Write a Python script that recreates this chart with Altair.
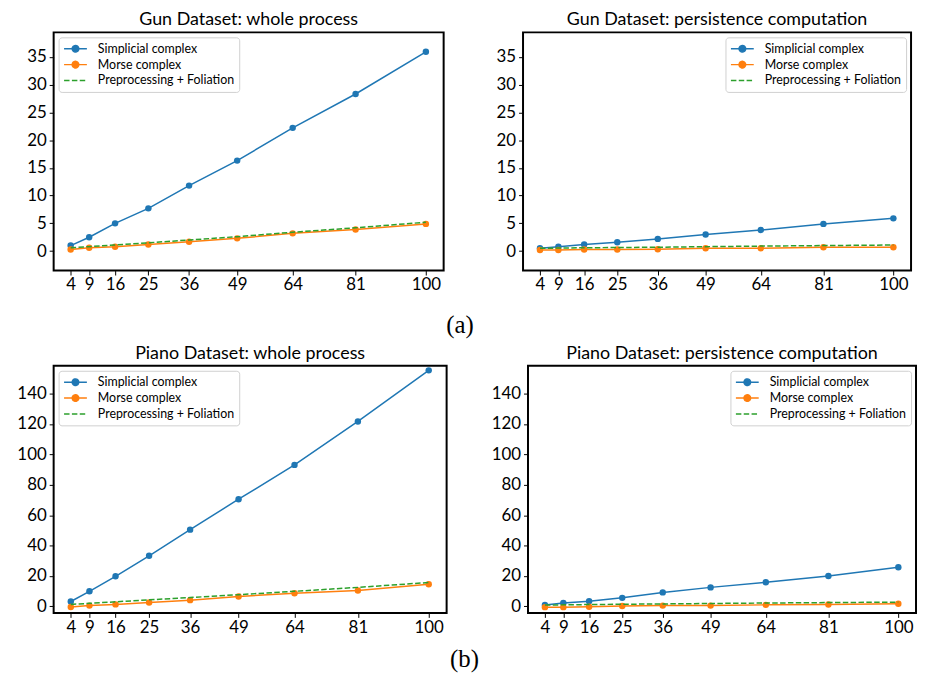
import altair as alt
import pandas as pd

x_sizes = [4, 9, 16, 25, 36, 49, 64, 81, 100]
series_names = ["Simplicial complex", "Morse complex", "Preprocessing + Foliation"]
series_colors = ["#1f77b4", "#ff7f0e", "#2ca02c"]

gun_whole_simplicial = [1.0, 2.5, 5.0, 7.7, 11.8, 16.3, 22.2, 28.3, 35.9]
gun_whole_morse = [0.3, 0.6, 0.8, 1.2, 1.7, 2.3, 3.2, 3.9, 4.9]
gun_whole_prep = [0.6, 0.8, 1.1, 1.5, 2.0, 2.6, 3.4, 4.2, 5.2]

gun_pers_simplicial = [0.5, 0.8, 1.2, 1.6, 2.2, 3.0, 3.8, 4.9, 5.9]
gun_pers_morse = [0.2, 0.2, 0.3, 0.3, 0.35, 0.5, 0.5, 0.7, 0.7]
gun_pers_prep = [0.5, 0.55, 0.6, 0.65, 0.7, 0.8, 0.9, 1.0, 1.1]

piano_whole_simplicial = [3.2, 9.9, 19.8, 33.3, 50.5, 70.5, 93.1, 121.7, 155.3]
piano_whole_morse = [-0.4, 0.5, 1.3, 2.6, 4.1, 6.5, 8.6, 10.5, 14.5]
piano_whole_prep = [1.3, 2.0, 3.0, 4.3, 5.8, 7.7, 9.9, 12.5, 15.7]

piano_pers_simplicial = [0.9, 2.2, 3.4, 5.6, 9.2, 12.5, 15.9, 20.0, 25.8]
piano_pers_morse = [-0.5, -0.5, -0.3, 0.3, 0.5, 0.5, 1.0, 1.2, 1.7]
piano_pers_prep = [0.9, 1.0, 1.2, 1.4, 1.6, 1.9, 2.2, 2.5, 2.8]

gun_ticks = [0, 5, 10, 15, 20, 25, 30, 35]
piano_ticks = [0, 20, 40, 60, 80, 100, 120, 140]

FONT = "Lato"
LINE_CIRCLE = "M-1,0L2.833,0M0.367,0A0.55,0.55 0 1,0 1.467,0A0.55,0.55 0 1,0 0.367,0Z"
LINE_ONLY = "M-1,0L2.833,0"
DASH = [5.5, 2.4]


def make_df(simp, morse, prep):
    rows = []
    for name, vals in zip(series_names, [simp, morse, prep]):
        for xv, yv in zip(x_sizes, vals):
            rows.append({"size": xv, "time": yv, "series": name})
    return pd.DataFrame(rows)


def panel(df, title, ydom, yvals, width, height, orient, yext):
    x = alt.X("size:Q", scale=alt.Scale(domain=[-0.6, 104.8], nice=False, zero=False),
              axis=alt.Axis(values=x_sizes, title=None, grid=False, domain=False,
                            tickSize=4.5, tickColor="black", labelPadding=2,
                            labelFont=FONT, labelFontSize=17, labelColor="black",
                            labelFlush=False, labelOverlap=False))
    y = alt.Y("time:Q", scale=alt.Scale(domain=ydom, nice=False, zero=False),
              axis=alt.Axis(values=yvals, title=None, grid=False, domain=False,
                            tickSize=4.5, tickColor="black", labelPadding=3,
                            labelFont=FONT, labelFontSize=17, labelColor="black",
                            minExtent=yext, maxExtent=yext, labelFlush=False,
                            labelOverlap=False))
    leg = alt.Legend(title=None, orient=orient, offset=5, padding=4.5,
                     strokeColor="#d0d0d0", cornerRadius=3, fillColor="white",
                     labelFont=FONT, labelFontSize=12.5, labelColor="black",
                     symbolSize=144, symbolStrokeWidth=1.5, symbolOpacity=1,
                     labelOffset=21, rowPadding=2)
    base = alt.Chart(df)
    dom = series_names
    # legend-only layer (no rows drawn); it carries the legend scales
    legend_layer = base.transform_filter("false").mark_point(
        size=144, strokeWidth=1.5, filled=False, opacity=1).encode(
        x=x, y=y,
        fill=alt.Fill("series:N", scale=alt.Scale(domain=dom, range=series_colors), legend=leg),
        stroke=alt.Stroke("series:N", scale=alt.Scale(domain=dom, range=series_colors), legend=leg),
        shape=alt.Shape("series:N", scale=alt.Scale(domain=dom, range=[LINE_CIRCLE, LINE_CIRCLE, LINE_ONLY]), legend=leg),
        strokeDash=alt.StrokeDash("series:N", scale=alt.Scale(domain=dom, range=[[1, 0], [1, 0], DASH]), legend=leg),
    )
    layers = [legend_layer]
    for i, name in enumerate(series_names):
        sub = base.transform_filter(alt.datum.series == name)
        c = series_colors[i]
        if i < 2:
            layers.append(sub.mark_line(strokeWidth=1.5, color=c).encode(x=x, y=y))
            layers.append(sub.mark_circle(size=42, opacity=1, color=c).encode(x=x, y=y))
        else:
            layers.append(sub.mark_line(strokeWidth=1.5, strokeDash=DASH, color=c).encode(x=x, y=y))
    return alt.layer(*layers).properties(
        width=width, height=height,
        title=alt.TitleParams(title, font=FONT, fontSize=18, fontWeight="normal",
                              color="black", anchor="middle", offset=3),
    )


chans = dict(fill="independent", stroke="independent",
             shape="independent", strokeDash="independent")

p1 = panel(make_df(gun_whole_simplicial, gun_whole_morse, gun_whole_prep),
           "Gun Dataset: whole process", [-3.5, 39.4], gun_ticks, 393, 240, "top-left", 45)
p2 = panel(make_df(gun_pers_simplicial, gun_pers_morse, gun_pers_prep),
           "Gun Dataset: persistence computation", [-3.5, 39.4], gun_ticks, 391, 240, "top-right", 28)
p3 = panel(make_df(piano_whole_simplicial, piano_whole_morse, piano_whole_prep),
           "Piano Dataset: whole process", [-4.3, 158.3], piano_ticks, 396, 249, "top-left", 41)
p4 = panel(make_df(piano_pers_simplicial, piano_pers_morse, piano_pers_prep),
           "Piano Dataset: persistence computation", [-4.3, 158.3], piano_ticks, 391, 249, "top-right", 42)

cap = dict(orient="bottom", font="Liberation Serif", fontSize=25, fontWeight="normal",
           color="black", anchor="middle")

top = alt.hconcat(p1, p2, spacing=50).resolve_scale(**chans).resolve_legend(**chans).properties(
    title=alt.TitleParams("(a)", offset=19, **cap))
bottom = alt.hconcat(p3, p4, spacing=38).resolve_scale(**chans).resolve_legend(**chans).properties(
    title=alt.TitleParams("(b)", offset=11, **cap))

chart = alt.vconcat(top, bottom, spacing=6).resolve_scale(**chans).resolve_legend(**chans).properties(
    padding={"left": 0, "top": 0, "right": 0, "bottom": -1},
    background="white",
).configure_view(stroke="black", strokeWidth=2)

chart.save("out.html", embed_options={"renderer": "svg", "actions": False})
